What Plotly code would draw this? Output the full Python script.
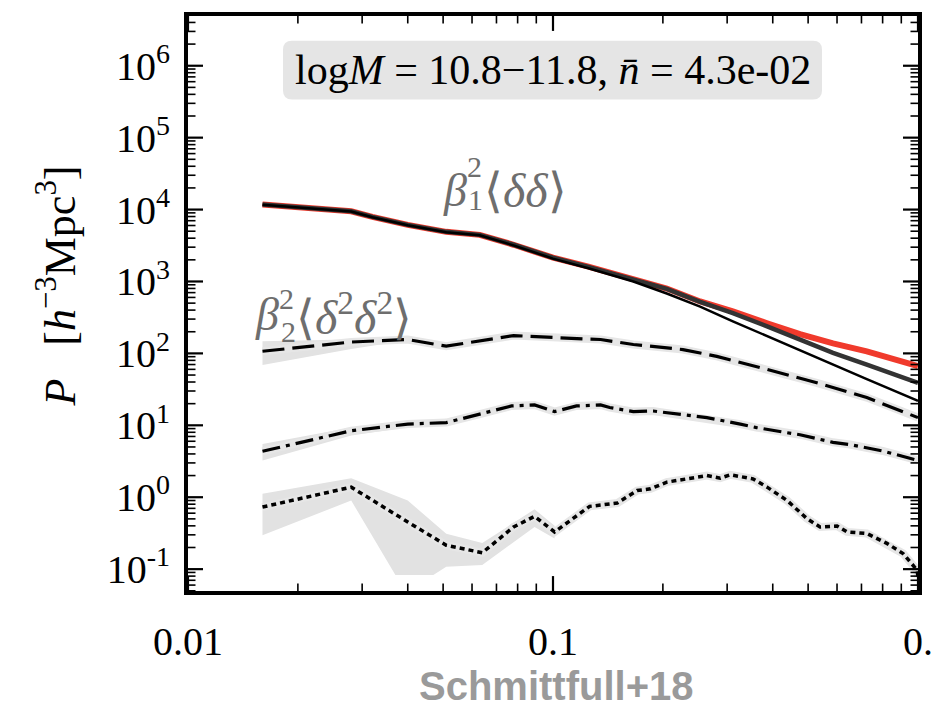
import math
import plotly.graph_objects as go

# ---------------- data ----------------
k_main = [0.016, 0.028, 0.032, 0.040, 0.051, 0.063, 0.078, 0.100, 0.125, 0.166,
          0.205, 0.253, 0.311, 0.386, 0.475, 0.585, 0.724, 1.0]
p_red = [11800, 9460, 7900, 6120, 4900, 4450, 3240, 2140, 1607, 1096,
         798, 527, 384, 262, 185, 138, 107, 66.5]
p_thick = [11800, 9460, 7900, 6120, 4900, 4450, 3240, 2140, 1600, 1090,
           790, 520, 363, 238, 155, 102, 70, 39]
p_thin = [11700, 9400, 7800, 6050, 4850, 4380, 3180, 2080, 1530, 1000,
          680, 447, 279, 175, 112, 70, 44, 21.8]

k_dash = [0.016, 0.028, 0.040, 0.051, 0.078, 0.100, 0.125, 0.135, 0.166, 0.227,
          0.281, 0.386, 0.528, 0.724, 1.0]
p_dash = [107, 144, 156, 126, 177, 165, 158, 156, 133, 113,
          91, 60, 39, 24.3, 12.8]
k_dash_band = [0.016, 0.028, 0.040]
p_dash_hi = [148, 157, 162]
p_dash_lo = [69, 115, 152]

k_dd = [0.016, 0.028, 0.040, 0.051, 0.063, 0.077, 0.089, 0.101, 0.116, 0.135,
        0.143, 0.166, 0.188, 0.237, 0.264, 0.326, 0.361, 0.437, 0.475, 0.585,
        0.651, 0.80, 0.975, 1.0]
p_dd = [4.35, 8.4, 10.4, 10.9, 14.3, 18.6, 19.2, 15.5, 18.6, 19.2,
        17.7, 15.5, 15.8, 13.5, 12.8, 10.4, 9.3, 7.9, 7.4, 5.8,
        5.4, 4.4, 3.4, 3.24]
k_dd_band = [0.016, 0.028, 0.040, 0.051]
p_dd_hi = [5.5, 9.3, 11.3, 11.8]
p_dd_lo = [3.24, 7.2, 9.4, 10.0]

k_dot = [0.016, 0.028, 0.040, 0.051, 0.064, 0.078, 0.089, 0.101, 0.126, 0.150,
         0.170, 0.185, 0.205, 0.237, 0.264, 0.287, 0.306, 0.353, 0.386, 0.438,
         0.496, 0.539, 0.600, 0.639, 0.724, 0.822, 0.910, 0.994, 1.0]
p_dot = [0.73, 1.38, 0.453, 0.215, 0.169, 0.386, 0.542, 0.329, 0.746, 0.83,
         1.24, 1.31, 1.62, 1.80, 2.0, 1.84, 2.05, 1.80, 1.38, 0.90,
         0.505, 0.386, 0.398, 0.329, 0.313, 0.228, 0.165, 0.097, 0.078]
k_dot_hi = [0.016, 0.028, 0.040, 0.051, 0.064, 0.089, 0.101]
p_dot_hi = [1.12, 1.84, 0.90, 0.31, 0.23, 0.68, 0.40]
k_dot_lo = [0.016, 0.028, 0.037, 0.047, 0.051, 0.064, 0.089, 0.101]
p_dot_lo = [0.296, 0.90, 0.083, 0.083, 0.108, 0.114, 0.386, 0.267]

x_major = [0.01, 0.1, 1.0]
x_major_text = ["0.01", "0.1", "0."]
y_major = [0.1, 1, 10, 100, 1e3, 1e4, 1e5, 1e6]
y_major_text = ["10<sup>-1</sup>", "10<sup>0</sup>", "10<sup>1</sup>", "10<sup>2</sup>",
                "10<sup>3</sup>", "10<sup>4</sup>", "10<sup>5</sup>", "10<sup>6</sup>"]

label_box = "log<i>M</i> = 10.8−11.8, <i>n̄</i> = 4.3e-02"
ylabel = "<i>P</i>&nbsp;&nbsp;&nbsp;[<i>h</i><sup>−3</sup>Mpc<sup>3</sup>]"
credit = "Schmittfull+18"

# ---------------- layout geometry ----------------
W, H = 947, 707
L, R, T, B = 188, 29, 13, 116
PW, PH = W - L - R, H - T - B
XR = [-2, 0]
YR = [-1.304, 6.6916]


def px(x):
    return (x - L) / PW


def py(y):
    return 1 - (y - T) / PH


SERIF = "Liberation Serif"
GREY_TXT = "#6e6e6e"
BAND = "#e2e2e2"

fig = go.Figure()


def band(kh, ph, kl, pl):
    fig.add_trace(go.Scatter(x=list(kh) + list(kl)[::-1], y=list(ph) + list(pl)[::-1],
                             mode="lines", fill="toself", fillcolor=BAND,
                             line=dict(width=0), hoverinfo="skip", showlegend=False))


band(k_dash_band, p_dash_hi, k_dash_band, p_dash_lo)
band(k_dd_band, p_dd_hi, k_dd_band, p_dd_lo)
band(k_dot_hi, p_dot_hi, k_dot_lo, p_dot_lo)

# halos
for kk, pp in [(k_dash, p_dash), (k_dd, p_dd), (k_dot, p_dot)]:
    fig.add_trace(go.Scatter(x=kk, y=pp, mode="lines",
                             line=dict(color="#e6e6e6", width=8),
                             hoverinfo="skip", showlegend=False))

fig.add_trace(go.Scatter(x=k_main, y=p_red, mode="lines",
                         line=dict(color="#f03a2c", width=6), showlegend=False))
fig.add_trace(go.Scatter(x=k_main, y=p_thick, mode="lines",
                         line=dict(color="#333333", width=4.5), showlegend=False))
fig.add_trace(go.Scatter(x=k_main, y=p_thin, mode="lines",
                         line=dict(color="black", width=2.5), showlegend=False))
fig.add_trace(go.Scatter(x=k_dash, y=p_dash, mode="lines",
                         line=dict(color="black", width=3.2, dash="22px,8px"), showlegend=False))
fig.add_trace(go.Scatter(x=k_dd, y=p_dd, mode="lines",
                         line=dict(color="black", width=3.2, dash="18px,6px,4px,6px"), showlegend=False))
fig.add_trace(go.Scatter(x=k_dot, y=p_dot, mode="lines",
                         line=dict(color="black", width=3.5, dash="5px,4px"), showlegend=False))

x_minor = [m * 10 ** e for e in (-2, -1) for m in range(2, 10)]
y_minor = [m * 10 ** e for e in range(-2, 7) for m in range(2, 10)
           if 10 ** YR[0] <= m * 10 ** e <= 10 ** YR[1]]


# ---- tick marks (inside, all four sides) drawn as a trace on a unit overlay axis ----
def xfrac(v):
    return (math.log10(v) - XR[0]) / (XR[1] - XR[0])


def yfrac(v):
    return (math.log10(v) - YR[0]) / (YR[1] - YR[0])


def tick_segments(xvals, yvals, length):
    xs, ys = [], []
    lx, ly = length / PW, length / PH
    for v in xvals:
        f = xfrac(v)
        xs += [f, f, None, f, f, None]
        ys += [0, ly, None, 1, 1 - ly, None]
    for v in yvals:
        f = yfrac(v)
        xs += [0, lx, None, 1, 1 - lx, None]
        ys += [f, f, None, f, f, None]
    return xs, ys


for xv, yv, ln, wd in [(x_major, y_major, 15, 2.2), (x_minor, y_minor, 7.5, 1.6)]:
    tx, ty = tick_segments(xv, yv, ln)
    fig.add_trace(go.Scatter(x=tx, y=ty, mode="lines", xaxis="x2", yaxis="y2",
                             line=dict(color="black", width=wd),
                             hoverinfo="skip", showlegend=False))

common = dict(showgrid=False, zeroline=False, showline=True, linecolor="black", linewidth=4,
              mirror=True, ticks="", type="log")

fig.update_layout(
    xaxis=dict(range=XR, tickmode="array", tickvals=x_major, ticktext=x_major_text,
               ticklabelstandoff=12, tickfont=dict(family=SERIF, size=40, color="black"),
               **common),
    yaxis=dict(range=YR, tickmode="array", tickvals=y_major, ticktext=y_major_text,
               ticklabelstandoff=6, tickfont=dict(family=SERIF, size=40, color="black"),
               **common),
    xaxis2=dict(range=[0, 1], overlaying="x", anchor="y2", visible=False,
                showgrid=False, zeroline=False),
    yaxis2=dict(range=[0, 1], overlaying="y", anchor="x2", visible=False,
                showgrid=False, zeroline=False),
)

# rounded label box
x0, x1, y0, y1, r = 283, 822, 38, 97, 9
path = (f"M {px(x0 + r)} {py(y0)} L {px(x1 - r)} {py(y0)} "
        f"Q {px(x1)} {py(y0)} {px(x1)} {py(y0 + r)} L {px(x1)} {py(y1 - r)} "
        f"Q {px(x1)} {py(y1)} {px(x1 - r)} {py(y1)} L {px(x0 + r)} {py(y1)} "
        f"Q {px(x0)} {py(y1)} {px(x0)} {py(y1 - r)} L {px(x0)} {py(y0 + r)} "
        f"Q {px(x0)} {py(y0)} {px(x0 + r)} {py(y0)} Z")
fig.add_shape(type="path", path=path, xref="paper", yref="paper",
              fillcolor="#e5e5e5", line=dict(width=0), layer="above")

ann = []


def text(x, y, s, size, color="black", xanchor="center", yanchor="middle", angle=0,
         family=SERIF):
    ann.append(dict(x=px(x), y=py(y), xref="paper", yref="paper", text=s, showarrow=False,
                    xanchor=xanchor, yanchor=yanchor, textangle=angle,
                    font=dict(family=family, size=size, color=color)))


text(553, 67, label_box, 42)
text(57, 285, ylabel, 44, angle=-90)
text(556, 686, f"<b>{credit}</b>", 40, color="#9a9a9a", family="Liberation Sans")

# beta_1^2 <dd>
text(441, 188, "<i>β</i>", 46, GREY_TXT, xanchor="left")
text(465, 164, "2", 30, GREY_TXT, xanchor="left")
text(466, 197, "1", 30, GREY_TXT, xanchor="left")
text(482, 188, "⟨<i>δδ</i>⟩", 48, GREY_TXT, xanchor="left")
# beta_2^2 <d2 d2>
text(253, 313, "<i>β</i>", 46, GREY_TXT, xanchor="left")
text(277, 297, "2", 30, GREY_TXT, xanchor="left")
text(279, 330, "2", 30, GREY_TXT, xanchor="left")
text(294, 313, "⟨<i>δ</i><sup>2</sup><i>δ</i><sup>2</sup>⟩", 48, GREY_TXT, xanchor="left")

fig.update_layout(width=W, height=H, margin=dict(l=L, r=R, t=T, b=B),
                  paper_bgcolor="white", plot_bgcolor="white",
                  annotations=ann, showlegend=False)

fig.write_html("out.html")
